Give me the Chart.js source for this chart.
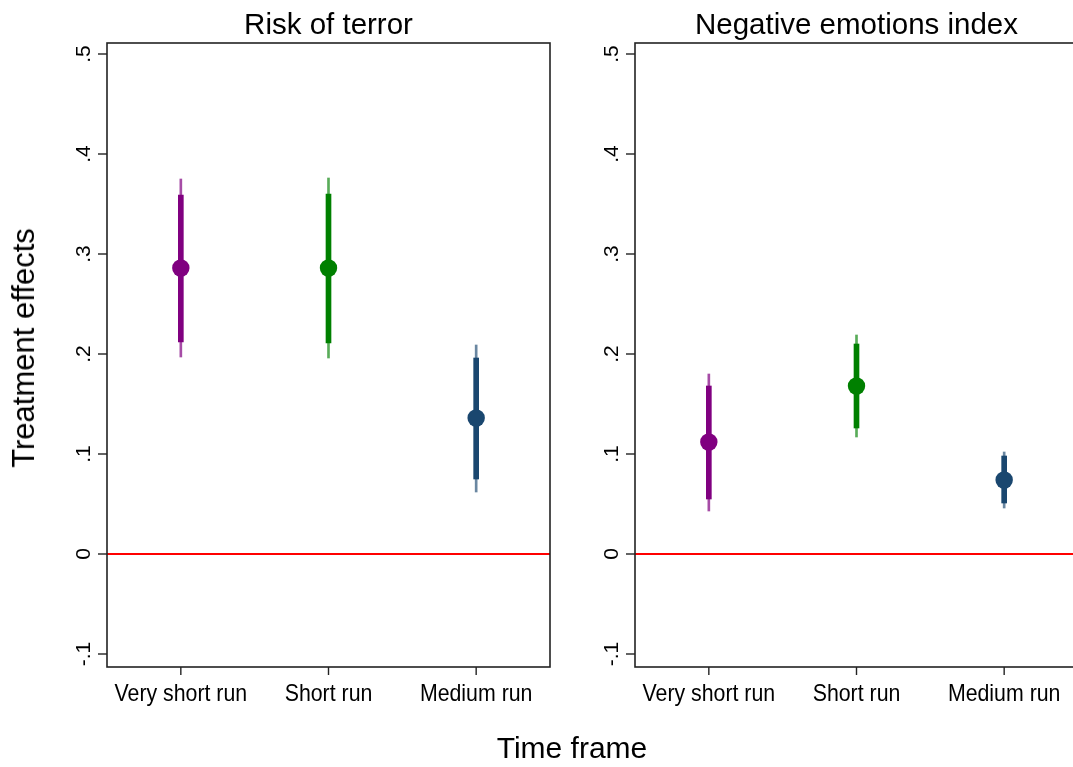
<!DOCTYPE html>
<html>
<head>
<meta charset="utf-8">
<script src="https://cdn.jsdelivr.net/npm/chart.js@4/dist/chart.umd.min.js"></script>
<style>
  html, body { margin: 0; padding: 0; background: #fff; overflow: hidden; }
  #wrap { position: relative; width: 1073px; height: 767px; overflow: hidden; background: #fff; }
  canvas { position: absolute; top: 0; }
  #c1 { left: 0px; }
  #c2 { left: 528px; }
  .lbl { position: absolute; font-family: "Liberation Sans", Arial, sans-serif; font-size: 30px; color: #000; white-space: nowrap; line-height: 30px; }
  #ytitle { left: 24px; top: 348px; font-size: 31px; transform: translate(-50%, -50%) rotate(-90deg); }
  #xtitle { left: 572px; top: 748px; transform: translate(-50%, -50%); }
</style>
</head>
<body>
<div id="wrap">
  <canvas id="c1" width="580" height="767"></canvas>
  <canvas id="c2" width="580" height="767"></canvas>
  <div class="lbl" id="ytitle">Treatment effects</div>
  <div class="lbl" id="xtitle">Time frame</div>
</div>
<script>
// ---- data ----
const categories = ['Very short run', 'Short run', 'Medium run'];
const panelTitles = ['Risk of terror', 'Negative emotions index'];

const terrorEst   = [0.286, 0.286, 0.136];
const terrorInner = [[0.212, 0.359], [0.211, 0.360], [0.075, 0.196]];
const terrorOuter = [[0.197, 0.375], [0.196, 0.376], [0.062, 0.209]];

const emotEst   = [0.112, 0.168, 0.074];
const emotInner = [[0.055, 0.168], [0.126, 0.210], [0.051, 0.098]];
const emotOuter = [[0.043, 0.180], [0.117, 0.219], [0.046, 0.102]];

const yTickValues = [-0.1, 0, 0.1, 0.2, 0.3, 0.4, 0.5];
const yTickLabels = ['-.1', '0', '.1', '.2', '.3', '.4', '.5'];
const yMin = -0.113, yMax = 0.511;
const refValue = 0;

const colors    = ['#800080', '#008000', '#1a476f'];
const colorsThin = ['rgba(128,0,128,0.7)', 'rgba(0,128,0,0.65)', 'rgba(26,71,111,0.65)'];

const FONT = '"Liberation Sans", Arial, sans-serif';

const decorPlugin = {
  id: 'decor',
  beforeDatasetsDraw(chart, args, opts) {
    const {ctx, chartArea: a, scales: {y}} = chart;
    const yy = y.getPixelForValue(refValue);
    ctx.save();
    ctx.strokeStyle = '#ff0000';
    ctx.lineWidth = 1.8;
    ctx.beginPath();
    ctx.moveTo(a.left, yy);
    ctx.lineTo(a.right, yy);
    ctx.stroke();
    ctx.restore();
  },
  afterDraw(chart, args, opts) {
    const {ctx, chartArea: a, scales: {x, y}} = chart;
    ctx.save();
    ctx.strokeStyle = '#222';
    ctx.lineWidth = 1.6;
    ctx.strokeRect(a.left, a.top, a.right - a.left, a.bottom - a.top);
    ctx.lineWidth = 1.4;
    ctx.fillStyle = '#000';
    ctx.font = '21px ' + FONT;
    ctx.textAlign = 'center';
    ctx.textBaseline = 'alphabetic';
    yTickValues.forEach((v, i) => {
      const py = y.getPixelForValue(v);
      ctx.beginPath();
      ctx.moveTo(a.left - 9, py);
      ctx.lineTo(a.left, py);
      ctx.stroke();
      ctx.save();
      ctx.translate(a.left - 17, py);
      ctx.rotate(-Math.PI / 2);
      ctx.fillText(yTickLabels[i], 0, 0);
      ctx.restore();
    });
    ctx.font = '24.5px ' + FONT;
    categories.forEach((c, i) => {
      const px = x.getPixelForValue(i);
      ctx.beginPath();
      ctx.moveTo(px, a.bottom);
      ctx.lineTo(px, a.bottom + 8);
      ctx.stroke();
      ctx.save();
      ctx.translate(px, 701);
      ctx.scale(0.87, 1);
      ctx.fillText(c, 0, 0);
      ctx.restore();
    });
    ctx.font = '29.5px ' + FONT;
    ctx.fillText(opts.title, (a.left + a.right) / 2, 34);
    ctx.restore();
  }
};

function makeChart(id, title, est, inner, outer) {
  return new Chart(document.getElementById(id), {
    type: 'bar',
    data: {
      labels: categories,
      datasets: [
        { type: 'line', data: est, showLine: false, pointRadius: 8.7, pointHoverRadius: 8.7,
          pointBackgroundColor: colors, pointBorderWidth: 0, pointBorderColor: colors, order: 0 },
        { data: inner, backgroundColor: colors, barThickness: 5, grouped: false, borderWidth: 0, order: 1 },
        { data: outer, backgroundColor: colorsThin, barThickness: 2, grouped: false, borderWidth: 0, order: 2 }
      ]
    },
    options: {
      responsive: false,
      devicePixelRatio: 1,
      animation: false,
      events: [],
      layout: { autoPadding: false, padding: { left: 0, right: 30, top: 43, bottom: 0 } },
      plugins: { legend: { display: false }, tooltip: { enabled: false }, title: { display: false },
                 decor: { title: title } },
      scales: {
        x: {
          type: 'category', offset: true,
          grid: { display: false }, border: { display: false }, ticks: { display: false },
          afterFit(s) { s.height = 100; }
        },
        y: {
          type: 'linear', min: yMin, max: yMax,
          grid: { display: false }, border: { display: false }, ticks: { display: false },
          afterBuildTicks(s) { s.ticks = yTickValues.map(v => ({ value: v })); },
          afterFit(s) { s.width = 107; }
        }
      }
    },
    plugins: [decorPlugin]
  });
}

makeChart('c1', panelTitles[0], terrorEst, terrorInner, terrorOuter);
makeChart('c2', panelTitles[1], emotEst, emotInner, emotOuter);
</script>
</body>
</html>
